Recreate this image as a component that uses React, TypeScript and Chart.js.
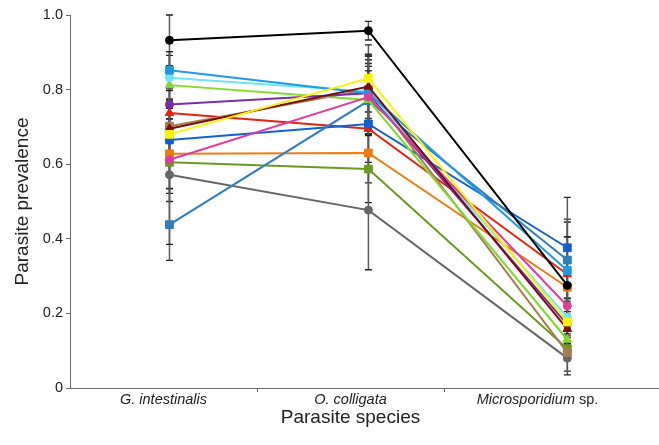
import React, { useEffect, useRef } from "react";
import { Chart, registerables } from "chart.js";

Chart.register(...registerables);

// ---- data ----
const categories = ["G. intestinalis", "O. colligata", "Microsporidium sp."];
const yTickValues = [0, 0.2, 0.4, 0.6, 0.8, 1.0];

const blackVals = [0.932, 0.958, 0.275];
const skyBlueVals = [0.852, 0.79, 0.315];
const cyanVals = [0.832, 0.795, 0.19];
const lightGreenVals = [0.812, 0.772, 0.13];
const purpleVals = [0.76, 0.79, 0.17];
const redVals = [0.737, 0.695, 0.305];
const brownVals = [0.702, 0.8, 0.095];
const darkRedVals = [0.695, 0.808, 0.158];
const yellowVals = [0.68, 0.83, 0.177];
const blueVals = [0.665, 0.708, 0.376];
const orangeVals = [0.628, 0.63, 0.27];
const pinkVals = [0.612, 0.78, 0.22];
const oliveVals = [0.605, 0.587, 0.105];
const grayVals = [0.572, 0.477, 0.08];
const steelBlueVals = [0.438, 0.77, 0.343];

const blackErr = [0.068, 0.025, 0.17];
const skyBlueErr = [0.05, 0.08, 0.09];
const cyanErr = [0.06, 0.1, 0.05];
const lightGreenErr = [0.09, 0.09, 0.04];
const purpleErr = [0.08, 0.1, 0.05];
const redErr = [0.06, 0.09, 0.1];
const brownErr = [0.07, 0.09, 0.05];
const darkRedErr = [0.08, 0.085, 0.04];
const yellowErr = [0.07, 0.09, 0.05];
const blueErr = [0.1, 0.08, 0.135];
const orangeErr = [0.093, 0.08, 0.08];
const pinkErr = [0.09, 0.1, 0.06];
const oliveErr = [0.105, 0.09, 0.03];
const grayErr = [0.187, 0.16, 0.045];
const steelBlueErr = [0.096, 0.08, 0.11];

// ---- styles ----
const series = [
  { name: "S1", values: blackVals, errors: blackErr, color: "#000000", shape: "circle" },
  { name: "S2", values: yellowVals, errors: yellowErr, color: "#FFF200", shape: "rect" },
  { name: "S3", values: darkRedVals, errors: darkRedErr, color: "#7A0C0C", shape: "triangle" },
  { name: "S4", values: pinkVals, errors: pinkErr, color: "#E03C9E", shape: "circle" },
  { name: "S5", values: skyBlueVals, errors: skyBlueErr, color: "#1F9BE6", shape: "rect" },
  { name: "S6", values: cyanVals, errors: cyanErr, color: "#6FE3FA", shape: "circle" },
  { name: "S7", values: purpleVals, errors: purpleErr, color: "#7A2DA6", shape: "circle" },
  { name: "S8", values: lightGreenVals, errors: lightGreenErr, color: "#80D92C", shape: "triangle" },
  { name: "S9", values: brownVals, errors: brownErr, color: "#A67C52", shape: "rect" },
  { name: "S10", values: steelBlueVals, errors: steelBlueErr, color: "#2F7DBB", shape: "rect" },
  { name: "S11", values: blueVals, errors: blueErr, color: "#135FD0", shape: "rect" },
  { name: "S12", values: redVals, errors: redErr, color: "#E2230F", shape: "triangle" },
  { name: "S13", values: orangeVals, errors: orangeErr, color: "#EE7B12", shape: "rect" },
  { name: "S14", values: oliveVals, errors: oliveErr, color: "#6B9A22", shape: "rect" },
  { name: "S15", values: grayVals, errors: grayErr, color: "#666666", shape: "circle" },
];

const FONT = "'Liberation Sans', Arial, sans-serif";
const AXIS_COLOR = "#6a6a6a";

const errorBarPlugin = {
  id: "errorBars",
  beforeDatasetsDraw(chart: any) {
    const ctx = chart.ctx;
    const yScale = chart.scales.y;
    ctx.save();
    chart.data.datasets.forEach((ds: any, di: number) => {
      const meta = chart.getDatasetMeta(di);
      const errs: number[] = ds.errors || [];
      meta.data.forEach((pt: any, i: number) => {
        const v = ds.data[i].y;
        const e = errs[i] || 0;
        const x = pt.x;
        const yt = yScale.getPixelForValue(v + e);
        const yb = yScale.getPixelForValue(v - e);
        ctx.strokeStyle = "#5a5a5a";
        ctx.lineWidth = 1.5;
        ctx.beginPath();
        ctx.moveTo(x, yt);
        ctx.lineTo(x, yb);
        ctx.stroke();
        ctx.strokeStyle = "#222222";
        ctx.lineWidth = 1.3;
        ctx.beginPath();
        ctx.moveTo(x - 3.5, yt);
        ctx.lineTo(x + 3.5, yt);
        ctx.moveTo(x - 3.5, yb);
        ctx.lineTo(x + 3.5, yb);
        ctx.stroke();
      });
    });
    ctx.restore();
  },
};

const axisExtendPlugin = {
  id: "axisExtend",
  afterDraw(chart: any) {
    const ctx = chart.ctx;
    const { right, bottom } = chart.chartArea;
    ctx.save();
    ctx.strokeStyle = AXIS_COLOR;
    ctx.lineWidth = 1;
    ctx.beginPath();
    ctx.moveTo(right, bottom + 0.5);
    ctx.lineTo(chart.width, bottom + 0.5);
    ctx.stroke();
    ctx.restore();
  },
};

const xLabelPlugin = {
  id: "xLabels",
  afterDraw(chart: any) {
    const ctx = chart.ctx;
    const scale = chart.scales.x;
    const y = chart.chartArea.bottom + 12;
    ctx.save();
    ctx.fillStyle = "#222222";
    ctx.textBaseline = "middle";
    ctx.textAlign = "left";
    const italic = `italic 14.5px ${FONT}`;
    const normal = `14.5px ${FONT}`;
    categories.forEach((label, i) => {
      const x = scale.getPixelForTick(i);
      let main = label;
      let suffix = "";
      if (label.endsWith(" sp.")) {
        main = label.slice(0, -4);
        suffix = " sp.";
      }
      ctx.font = italic;
      const w1 = ctx.measureText(main).width;
      ctx.font = normal;
      const w2 = suffix ? ctx.measureText(suffix).width : 0;
      const start = x - (w1 + w2) / 2;
      ctx.font = italic;
      ctx.fillText(main, start, y);
      if (suffix) {
        ctx.font = normal;
        ctx.fillText(suffix, start + w1, y);
      }
    });
    ctx.restore();
  },
};

export default function App() {
  const ref = useRef<HTMLCanvasElement | null>(null);

  useEffect(() => {
    if (!ref.current) return;
    const chart = new Chart(ref.current, {
      type: "line",
      data: {
        datasets: series.map((s) => ({
          label: s.name,
          data: s.values.map((v, i) => ({ x: i, y: v })),
          errors: s.errors,
          xAxisID: "x2",
          yAxisID: "y",
          borderColor: s.color,
          backgroundColor: s.color,
          pointBackgroundColor: s.color,
          pointBorderColor: s.color,
          borderWidth: 2,
          pointStyle: s.shape,
          pointRadius: s.shape === "rect" ? 5.5 : s.shape === "triangle" ? 5 : 4,
          pointBorderWidth: 1,
          tension: 0,
          fill: false,
        })) as any,
      },
      options: {
        animation: false,
        responsive: false,
        maintainAspectRatio: false,
        layout: { padding: { top: 15, right: 28, left: 0, bottom: 0 } },
        plugins: {
          legend: { display: false },
          tooltip: { enabled: false },
          title: { display: false },
        },
        scales: {
          x: {
            type: "category",
            labels: categories,
            offset: true,
            position: "bottom",
            grid: {
              offset: true,
              drawOnChartArea: false,
              drawTicks: true,
              tickLength: 4,
              tickColor: (c: any) =>
                c.type !== "tick" || c.index === 0 ? "rgba(0,0,0,0)" : AXIS_COLOR,
            },
            border: { display: true, color: AXIS_COLOR, width: 1 },
            ticks: { display: false },
            title: {
              display: true,
              text: "Parasite species",
              color: "#222222",
              font: { family: FONT, size: 19 },
              padding: { top: 0, bottom: 16 },
            },
            afterFit: (s: any) => {
              s.height = 57;
            },
          },
          x2: {
            type: "linear",
            display: false,
            min: -0.5,
            max: 2.32,
            position: "bottom",
          },
          y: {
            type: "linear",
            min: 0,
            max: 1,
            afterBuildTicks: (s: any) => {
              s.ticks = yTickValues.map((v) => ({ value: v }));
            },
            grid: {
              drawOnChartArea: false,
              drawTicks: true,
              tickLength: 4,
              tickColor: AXIS_COLOR,
            },
            border: { display: true, color: AXIS_COLOR, width: 1 },
            ticks: {
              color: "#222222",
              padding: 3,
              font: { family: FONT, size: 14.5 },
              callback: (v: any) => (Number(v) === 0 ? "0" : Number(v).toFixed(1)),
            },
            title: {
              display: true,
              text: "Parasite prevalence",
              color: "#222222",
              font: { family: FONT, size: 19 },
              padding: { top: 11, bottom: 0 },
            },
            afterFit: (s: any) => {
              s.width = 70;
            },
          },
        },
      } as any,
      plugins: [errorBarPlugin, axisExtendPlugin, xLabelPlugin],
    });
    return () => chart.destroy();
  }, []);

  return (
    <div style={{ position: "fixed", left: 0, top: 0, width: 659, height: 445, background: "#fff" }}>
      <canvas ref={ref} width={659} height={445} style={{ width: 659, height: 445, display: "block" }} />
    </div>
  );
}
